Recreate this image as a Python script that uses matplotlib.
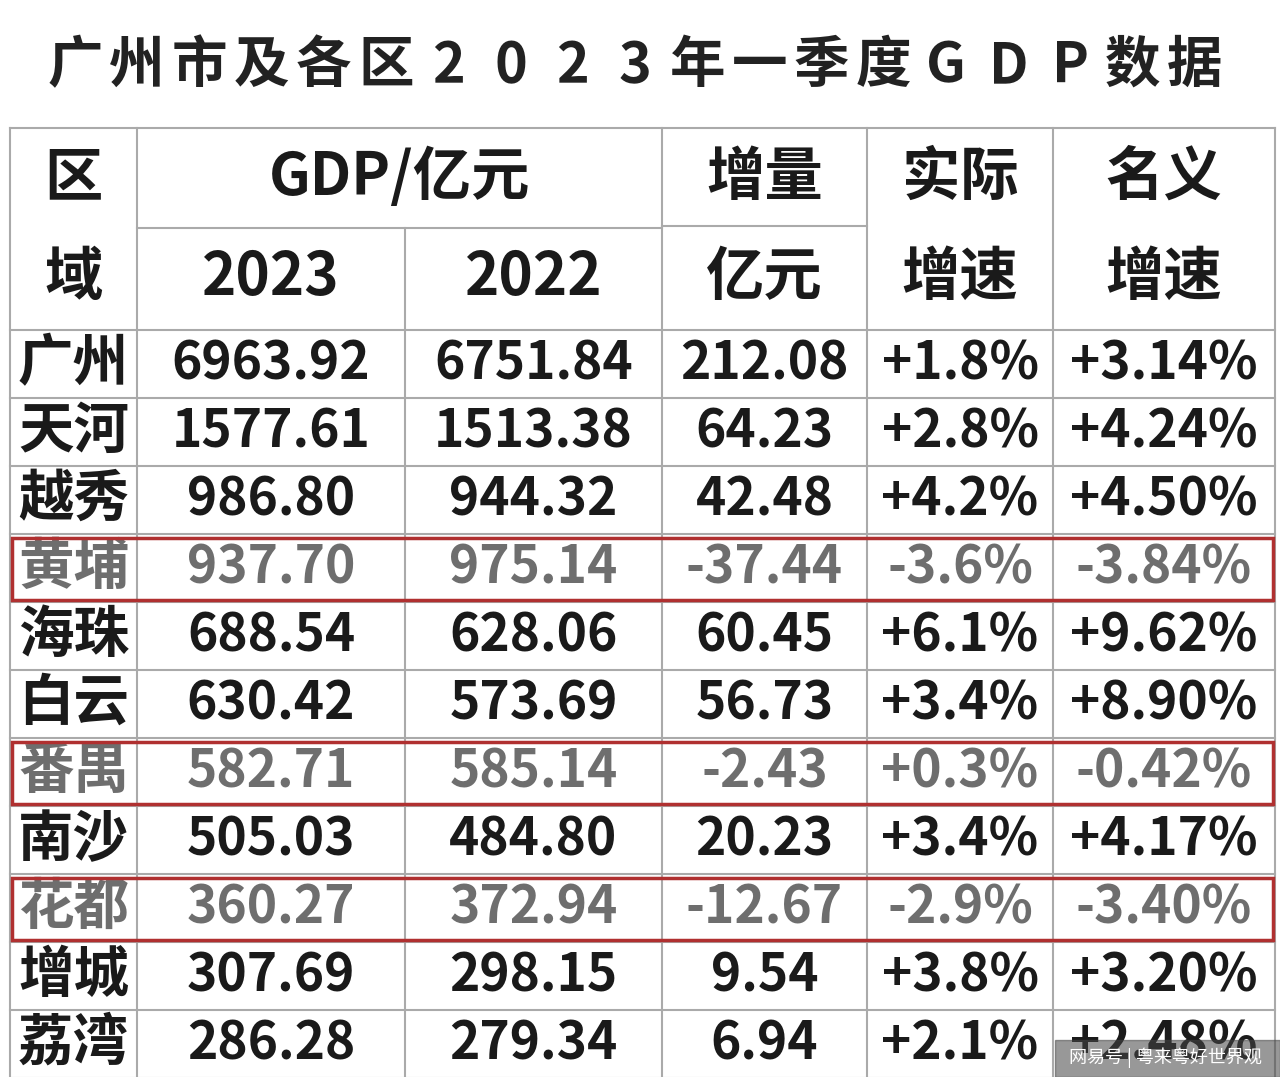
import matplotlib
matplotlib.use("Agg")
import matplotlib.pyplot as plt
from matplotlib.patches import Rectangle

plt.rcParams['font.family'] = ['Noto Sans CJK SC', 'DejaVu Sans']

title = "广州市及各区2023年一季度GDP数据"
districts = ["广州", "天河", "越秀", "黄埔", "海珠", "白云", "番禺", "南沙", "花都", "增城", "荔湾"]
gdp2023 = ["6963.92", "1577.61", "986.80", "937.70", "688.54", "630.42", "582.71", "505.03", "360.27", "307.69", "286.28"]
gdp2022 = ["6751.84", "1513.38", "944.32", "975.14", "628.06", "573.69", "585.14", "484.80", "372.94", "298.15", "279.34"]
increase = ["212.08", "64.23", "42.48", "-37.44", "60.45", "56.73", "-2.43", "20.23", "-12.67", "9.54", "6.94"]
real_growth = ["+1.8%", "+2.8%", "+4.2%", "-3.6%", "+6.1%", "+3.4%", "+0.3%", "+3.4%", "-2.9%", "+3.8%", "+2.1%"]
nominal_growth = ["+3.14%", "+4.24%", "+4.50%", "-3.84%", "+9.62%", "+8.90%", "-0.42%", "+4.17%", "-3.40%", "+3.20%", "+2.48%"]
highlight = ["黄埔", "番禺", "花都"]

fig = plt.figure(figsize=(12.8, 10.77), dpi=100)
ax = fig.add_axes([0, 0, 1, 1])
ax.set_xlim(0, 1280); ax.set_ylim(1077, 0); ax.axis('off')
fig.patch.set_facecolor('white')

tx0, tx1 = 75, 1195
for i, ch in enumerate(title):
    x = tx0 + (tx1 - tx0) * i / (len(title) - 1)
    ax.text(x, 66, ch, fontsize=40, fontweight='bold', ha='center', va='center', color='#222')

cols = [10, 137, 405, 662, 867, 1053, 1275]
top, mid, hbot = 128, 228, 330
rh = 68
nrows = len(districts)
bottom = hbot + rh * nrows
lc = '#aaaaaa'
lw = 1.5
for i, x in enumerate(cols):
    y0 = top if i != 2 else mid
    ax.plot([x, x], [y0, bottom], color=lc, lw=lw)
ax.plot([cols[0], cols[-1]], [top, top], color=lc, lw=lw)
ax.plot([cols[1], cols[3]], [mid, mid], color=lc, lw=lw)
ax.plot([cols[3], cols[4]], [mid - 2, mid - 2], color=lc, lw=lw)
for r in range(nrows + 1):
    y = hbot + rh * r
    ax.plot([cols[0], cols[-1]], [y, y], color=lc, lw=lw)

def cx(i):
    return (cols[i] + cols[i + 1]) / 2

hs = dict(fontsize=42, fontweight='bold', ha='center', va='center', color='#1a1a1a')
ax.text(cx(0), 178, "区", **hs); ax.text(cx(0), 278, "域", **hs)
ax.text((cols[1] + cols[3]) / 2, 178, "GDP/亿元", **hs)
ax.text(cx(1), 278, "2023", **hs); ax.text(cx(2), 278, "2022", **hs)
ax.text(cx(3), 178, "增量", **hs); ax.text(cx(3), 278, "亿元", **hs)
ax.text(cx(4), 178, "实际", **hs); ax.text(cx(4), 278, "增速", **hs)
ax.text(cx(5), 178, "名义", **hs); ax.text(cx(5), 278, "增速", **hs)

for r, name in enumerate(districts):
    yc = hbot + rh * r + rh / 2
    hl = name in highlight
    col = '#6e6e6e' if hl else '#1a1a1a'
    vals = [name, gdp2023[r], gdp2022[r], increase[r], real_growth[r], nominal_growth[r]]
    for c, v in enumerate(vals):
        ax.text(cx(c), yc, v, fontsize=40 if c == 0 else 37, fontweight='bold',
                ha='center', va='center', color=col)
    if hl:
        ax.add_patch(Rectangle((cols[0] + 2, hbot + rh * r + 4), cols[-1] - cols[0] - 4, rh - 6,
                               fill=False, edgecolor='#b03030', lw=2.5, zorder=5))

ax.add_patch(Rectangle((1055, 1040), 225, 37, color='#444444', alpha=0.55, zorder=6))
ax.text(1165, 1058, "网易号 | 粤来粤好世界观", fontsize=13, color='white', ha='center', va='center', zorder=7)

fig.savefig("out.png", dpi=100)
